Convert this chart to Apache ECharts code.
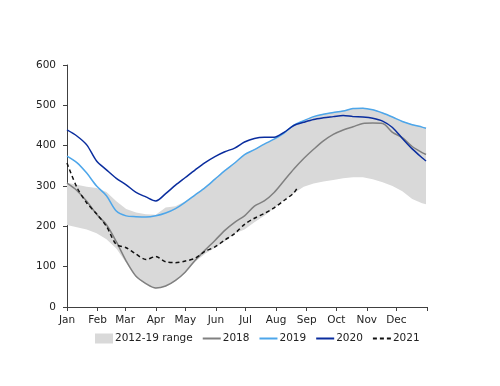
<!DOCTYPE html>
<html>
<head>
<meta charset="utf-8">
<script src="https://cdn.jsdelivr.net/npm/echarts@6/dist/echarts.min.js"></script>
<style>html,body{margin:0;padding:0;background:#fff}#c{width:500px;height:386px}</style>
</head>
<body>
<div id="c"></div>
<script>
const monthLabels = ['Jan','Feb','Mar','Apr','May','Jun','Jul','Aug','Sep','Oct','Nov','Dec'];
const monthStarts = [0,31,59,90,120,151,181,212,243,273,304,334];
const yTicks = [0,100,200,300,400,500,600];
const days = [0,10,20,30,40,50,60,70,80,90,100,110,120,130,140,150,160,170,180,190,200,210,220,230,240,250,260,270,280,290,300,310,320,330,340,350,360,364];
const rangeLow = [203,198,192,183,168,145,110,74,56,45,50,64,85,112,132,147,163,182,192,210,226,245,265,282,298,306,311,315,319,322,322,317,309,300,287,268,257,255];
const rangeHigh = [308,303,298,295,285,262,243,234,230,229,247,250,262,279,297,318,339,358,379,391,405,417,432,452,463,473,479,483,487,493,494,490,482,472,461,453,447,444];
const s2018 = [307,289,262,230,204,162,114,76,58,47,52,66,87,116,141,165,190,210,226,250,263,284,313,342,368,391,412,428,439,447,455,456,455,433,420,398,383,378];
const s2019 = [374,358,332,300,276,238,226,224,223,226,233,244,260,278,296,317,338,357,378,390,404,416,431,451,462,472,478,482,486,492,493,489,481,471,460,452,446,443];
const s2020 = [439,424,402,362,340,319,303,284,273,263,281,302,321,340,358,373,385,394,409,418,421,421,433,450,458,465,469,472,475,472,471,468,461,445,418,392,370,362];
const days2021 = [0,10,20,30,40,50,60,70,80,90,100,110,120,130,140,150,160,170,180,190,200,210,220,230,234];
const s2021 = [357,297,258,231,200,155,147,131,118,125,112,110,114,121,138,149,166,182,205,220,232,246,264,283,298];

const pair = (xs, ys) => xs.map((d, i) => [d, ys[i]]);
const bandData = days.map((d, i) => [d, rangeLow[i], rangeHigh[i]]);
const font = 'DejaVu Sans';
const fs = 10.5;
const chart = echarts.init(document.getElementById('c'));
chart.setOption({
  animation: false,
  textStyle: {fontFamily: font},
  grid: {left: 67, right: 73, top: 65, bottom: 79},
  legend: {
    left: 95, top: 333, padding: 0, itemWidth: 18, itemHeight: 10, itemGap: 9,
    itemStyle: {opacity: 0},
    textStyle: {fontFamily: font, fontSize: fs, color: '#222', padding: [0,0,0,-3]},
    data: [
      {name: '2012-19 range', icon: 'rect', itemStyle: {opacity: 1, color: '#d9d9d9'}},
      {name: '2018'}, {name: '2019'}, {name: '2020'}, {name: '2021'}
    ]
  },
  xAxis: {
    type: 'value', min: 0, max: 365,
    splitLine: {show: false},
    axisLine: {lineStyle: {color: '#404040'}},
    axisTick: {show: true, length: 4, lineStyle: {color: '#404040'}, customValues: monthStarts.concat([365])},
    axisLabel: {
      customValues: monthStarts, fontFamily: font, fontSize: fs, color: '#222', margin: 8,
      formatter: v => monthLabels[monthStarts.indexOf(v)] || ''
    }
  },
  yAxis: {
    type: 'value', min: yTicks[0], max: yTicks[yTicks.length-1], interval: 100,
    splitLine: {show: false},
    axisLine: {show: true, lineStyle: {color: '#404040'}},
    axisTick: {show: true, length: 4, lineStyle: {color: '#404040'}},
    axisLabel: {fontFamily: font, fontSize: fs, color: '#222', margin: 11}
  },
  series: [
    {name: '2012-19 range', type: 'custom', z: 1, silent: true,
     itemStyle: {color: '#d9d9d9'},
     encode: {x: 0, y: [1, 2]},
     data: bandData,
     renderItem: function (params, api) {
       if (params.dataIndex !== 0) return null;
       const upper = bandData.map(p => api.coord([p[0], p[2]]));
       const lower = bandData.map(p => api.coord([p[0], p[1]])).reverse();
       return {type: 'polygon', shape: {points: upper.concat(lower)}, style: {fill: '#d9d9d9'}};
     }},
    {name: '2018', type: 'line', symbol: 'circle', showSymbol: false, smooth: 0.3, z: 3,
     itemStyle: {color: '#808080'}, lineStyle: {color: '#808080', width: 1.5}, data: pair(days, s2018)},
    {name: '2019', type: 'line', symbol: 'circle', showSymbol: false, smooth: 0.3, z: 4,
     itemStyle: {color: '#4da6ea'}, lineStyle: {color: '#4da6ea', width: 1.5}, data: pair(days, s2019)},
    {name: '2020', type: 'line', symbol: 'circle', showSymbol: false, smooth: 0.3, z: 5,
     itemStyle: {color: '#0a2d9e'}, lineStyle: {color: '#0a2d9e', width: 1.5}, data: pair(days, s2020)},
    {name: '2021', type: 'line', symbol: 'circle', showSymbol: false, smooth: 0.3, z: 6,
     itemStyle: {color: '#111'}, lineStyle: {color: '#111', width: 1.5, type: [4, 3]}, data: pair(days2021, s2021)}
  ]
});
</script>
</body>
</html>
